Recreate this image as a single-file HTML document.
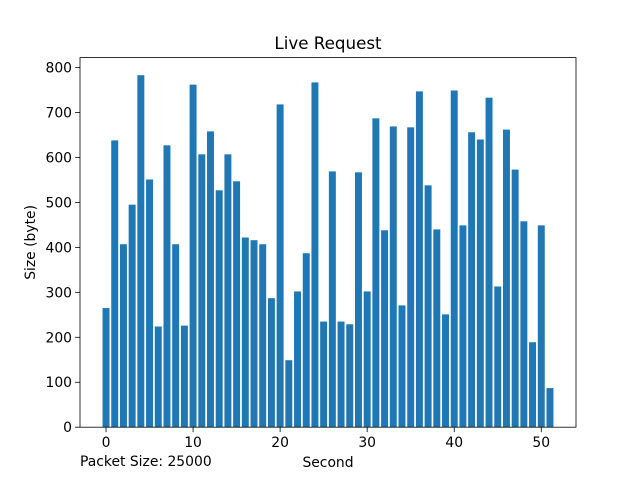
<!DOCTYPE html>
<html><head><meta charset="utf-8"><style>
body{margin:0;background:#fff;}
svg text{font-family:"DejaVu Sans","Liberation Sans",sans-serif;fill:#000;}
</style></head><body>
<svg id="chart" width="640" height="480" viewBox="0 0 640 480">
<rect width="640" height="480" fill="#fff"/>
<text x="328" y="49" font-size="16.7" text-anchor="middle">Live Request</text>
<g id="bars"></g>
<g id="xticks"></g>
<g id="yticks"></g>
<rect x="80" y="57.6" width="496" height="369.6" fill="none" stroke="#000" stroke-width="0.8"/>
<text x="328" y="467" font-size="13.9" text-anchor="middle">Second</text>
<text transform="translate(35,242.4) rotate(-90)" font-size="13.9" text-anchor="middle">Size (byte)</text>
<text x="80" y="466" font-size="13.9">Packet Size: 25000</text>
</svg>
<script>
const seconds = Array.from({length:52},(_,i)=>i);
const sizes = [265,638,407,495,783,551,224,627,407,226,762,607,658,527,607,547,422,416,407,287,718,149,302,387,767,235,569,235,229,567,302,687,438,669,271,667,747,538,440,251,749,449,656,640,733,313,662,573,458,189,449,87];
const xTickLabels = [0,10,20,30,40,50];
const yTickLabels = [0,100,200,300,400,500,600,700,800];
const NS="http://www.w3.org/2000/svg";
const L=80,R=576,T=57.6,B=427.2;
const xmin=-0.4-0.05*51.8, xmax=51.4+0.05*51.8;
const ymax=Math.max(...sizes)*1.05;
const xs=v=>L+(v-xmin)/(xmax-xmin)*(R-L);
const ys=v=>B-v/ymax*(B-T);
const bars=document.getElementById('bars');
seconds.forEach((s,i)=>{
  const r=document.createElementNS(NS,'rect');
  r.setAttribute('x',xs(s-0.4));
  r.setAttribute('width',xs(s+0.4)-xs(s-0.4));
  r.setAttribute('y',ys(sizes[i]));
  r.setAttribute('height',ys(0)-ys(sizes[i]));
  r.setAttribute('fill','#1f77b4');
  
  
  bars.appendChild(r);
});
const xt=document.getElementById('xticks');
xTickLabels.forEach(v=>{
  const l=document.createElementNS(NS,'line');
  l.setAttribute('x1',xs(v));l.setAttribute('x2',xs(v));
  l.setAttribute('y1',B);l.setAttribute('y2',B+4.9);
  l.setAttribute('stroke','#000');l.setAttribute('stroke-width','0.8');
  
  
  xt.appendChild(l);
  const t=document.createElementNS(NS,'text');
  t.setAttribute('x',xs(v));t.setAttribute('y',B+20);
  t.setAttribute('font-size','13.9');t.setAttribute('text-anchor','middle');
  t.textContent=v;
  
  
  xt.appendChild(t);
});
const yt=document.getElementById('yticks');
yTickLabels.forEach(v=>{
  const l=document.createElementNS(NS,'line');
  l.setAttribute('x1',L-4.9);l.setAttribute('x2',L);
  l.setAttribute('y1',ys(v));l.setAttribute('y2',ys(v));
  l.setAttribute('stroke','#000');l.setAttribute('stroke-width','0.8');
  
  
  yt.appendChild(l);
  const t=document.createElementNS(NS,'text');
  t.setAttribute('x',L-8);t.setAttribute('y',ys(v)+5);
  t.setAttribute('font-size','13.9');t.setAttribute('text-anchor','end');
  t.textContent=v;
  
  
  yt.appendChild(t);
});
</script>
</body></html>
